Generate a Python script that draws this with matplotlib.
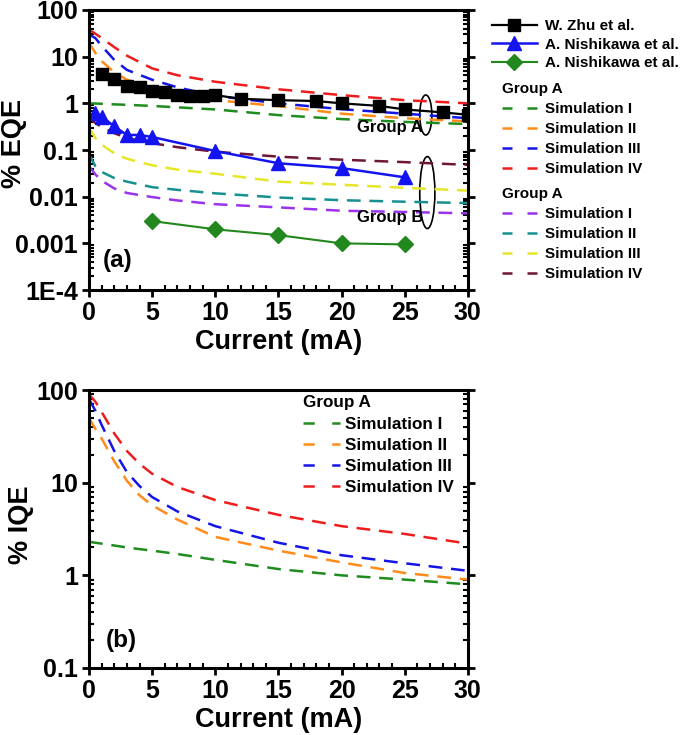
import numpy as np
import matplotlib
matplotlib.use('Agg')
import matplotlib.pyplot as plt
from matplotlib.lines import Line2D
from matplotlib.patches import Ellipse
from matplotlib.ticker import (FixedLocator, FixedFormatter, MultipleLocator,
                               LogLocator, NullFormatter)

plt.rcParams['font.family'] = ['Liberation Sans', 'DejaVu Sans']
plt.rcParams['font.weight'] = 'bold'
plt.rcParams['axes.labelweight'] = 'bold'

# ---- measured data (EQE, %) ----
zhu_x = [1, 2, 3, 4, 5, 6, 7, 8, 9, 10, 12, 15, 18, 20, 23, 25, 28, 30]
zhu_y = [4.3, 3.3, 2.35, 2.2, 1.86, 1.77, 1.5, 1.45, 1.45, 1.5, 1.25, 1.17,
         1.12, 1.0, 0.88, 0.74, 0.64, 0.57]
nishi1_x = [0.5, 1, 2, 3, 4, 5, 10, 15, 20, 25]
nishi1_y = [0.61, 0.52, 0.32, 0.21, 0.21, 0.19, 0.095, 0.052, 0.041, 0.026]
nishi2_x = [5, 10, 15, 20, 25]
nishi2_y = [0.003, 0.002, 0.0015, 0.001, 0.00095]

# ---- simulated EQE (%) ----
sim_x = [0, 0.5, 1, 2, 3, 5, 7, 10, 15, 20, 25, 30]
eqe_a1 = [1.0, 0.99, 0.98, 0.95, 0.93, 0.88, 0.82, 0.74, 0.56, 0.46, 0.40, 0.36]
eqe_a2 = [20, 12, 8, 4.6, 3.2, 2.1, 1.6, 1.17, 0.87, 0.6, 0.48, 0.41]
eqe_a3 = [30, 25, 17, 8.5, 5.2, 3.2, 2.2, 1.45, 1.0, 0.75, 0.6, 0.48]
eqe_a4 = [38, 31, 25, 16, 10.5, 5.6, 4.0, 2.9, 2.0, 1.5, 1.17, 1.0]
eqe_b1 = [0.045, 0.03, 0.022, 0.015, 0.012, 0.0098, 0.0083, 0.0069, 0.0059,
          0.005, 0.0047, 0.0044]
eqe_b2 = [0.08, 0.045, 0.034, 0.025, 0.021, 0.016, 0.014, 0.0118, 0.0096,
          0.0084, 0.0078, 0.0073]
eqe_b3 = [0.3, 0.18, 0.13, 0.085, 0.065, 0.047, 0.038, 0.031, 0.021, 0.018,
          0.0155, 0.0135]
eqe_b4 = [0.5, 0.38, 0.31, 0.23, 0.18, 0.14, 0.115, 0.092, 0.072, 0.062,
          0.055, 0.048]

# ---- simulated IQE (%) ----
iqe_x = [0, 0.5, 1, 2, 3, 4, 5, 7, 10, 15, 20, 25, 30]
iqe_a1 = [2.3, 2.25, 2.2, 2.1, 2.0, 1.92, 1.85, 1.7, 1.47, 1.17, 1.0, 0.9, 0.8]
iqe_a2 = [50, 38, 30, 17, 10.5, 7.3, 5.7, 4.0, 2.6, 1.85, 1.38, 1.06, 0.9]
iqe_a3 = [80, 60, 42, 22, 13, 9.2, 7.0, 4.9, 3.4, 2.25, 1.65, 1.35, 1.12]
iqe_a4 = [90, 75, 58, 34, 22, 16, 12.5, 9.0, 6.5, 4.5, 3.4, 2.8, 2.2]

sim_labels = ['Simulation I', 'Simulation II', 'Simulation III', 'Simulation IV']
cols_a = ['#1e8c1e', '#ff8c1a', '#1414e6', '#ee1c1c']
cols_b = ['#9a33ee', '#169090', '#e6e629', '#6e1538']

DASH = (0, (5.5, 3.5))
LW = 1.8

fig = plt.figure(figsize=(6.85, 7.35), dpi=100)
ax1 = fig.add_axes([0.130, 0.6054, 0.553, 0.381])
ax2 = fig.add_axes([0.130, 0.0912, 0.553, 0.378])


def style_axis(ax, ylim, yticks, ylabels):
    ax.set_xlim(0, 30)
    ax.set_yscale('log')
    ax.set_ylim(*ylim)
    ax.xaxis.set_major_locator(MultipleLocator(5))
    ax.xaxis.set_minor_locator(MultipleLocator(1))
    ax.yaxis.set_major_locator(FixedLocator(yticks))
    ax.yaxis.set_major_formatter(FixedFormatter(ylabels))
    ax.yaxis.set_minor_locator(LogLocator(base=10, subs=np.arange(2, 10), numticks=20))
    ax.yaxis.set_minor_formatter(NullFormatter())
    ax.tick_params(which='major', direction='out', length=5, width=2,
                   labelsize=18, right=True, top=False, pad=3)
    ax.tick_params(which='minor', direction='in', length=3.5, width=1.5,
                   right=True, top=False)
    for s in ax.spines.values():
        s.set_linewidth(2.2)
    ax.set_xlabel('Current (mA)', fontsize=19.5, labelpad=3)


# ---- panel (a) ----
for ys, c in zip([eqe_a1, eqe_a2, eqe_a3, eqe_a4], cols_a):
    ax1.plot(sim_x, ys, color=c, lw=LW, linestyle=DASH)
for ys, c in zip([eqe_b1, eqe_b2, eqe_b3, eqe_b4], cols_b):
    ax1.plot(sim_x, ys, color=c, lw=LW, linestyle=DASH)

ax1.plot(zhu_x, zhu_y, color='k', lw=1.6, marker='s', ms=9)
ax1.plot(nishi1_x, nishi1_y, color='#1414f0', lw=1.8, marker='^', ms=10)
ax1.plot(nishi2_x, nishi2_y, color='#22881e', lw=1.5, marker='D', ms=8)

style_axis(ax1, (1e-4, 100), [1e-4, 1e-3, 1e-2, 0.1, 1, 10, 100],
           ['1E-4', '0.001', '0.01', '0.1', '1', '10', '100'])
ax1.set_ylabel('% EQE', fontsize=19.5)
ax1.yaxis.set_label_coords(-0.165, 0.525)

ax1.add_patch(Ellipse((0.889, 0.625), 0.032, 0.143, transform=ax1.transAxes,
                      fill=False, color='k', lw=1.2))
ax1.add_patch(Ellipse((0.893, 0.348), 0.040, 0.257, transform=ax1.transAxes,
                      fill=False, color='k', lw=1.2))
ax1.text(0.882, 0.58, 'Group A', transform=ax1.transAxes, ha='right',
         va='center', fontsize=12)
ax1.text(0.882, 0.26, 'Group B', transform=ax1.transAxes, ha='right',
         va='center', fontsize=12)
ax1.text(0.037, 0.107, '(a)', transform=ax1.transAxes, ha='left',
         va='center', fontsize=17.5)

# legends (outside right)
h_data = [Line2D([], [], color='k', lw=1.6, marker='s', ms=9),
          Line2D([], [], color='#1414f0', lw=1.8, marker='^', ms=10),
          Line2D([], [], color='#22881e', lw=1.5, marker='D', ms=8)]
l_data = ['W. Zhu et al.', 'A. Nishikawa et al.', 'A. Nishikawa et al.']
leg_kw = dict(frameon=False, fontsize=11, borderpad=0, borderaxespad=0,
              labelspacing=0.3, handletextpad=0.5,
              bbox_transform=fig.transFigure, loc='upper left')
leg1 = fig.legend(h_data, l_data, bbox_to_anchor=(0.718, 0.974),
                  handlelength=2.95, numpoints=1, **leg_kw)

h_a = [Line2D([], [], color=c, lw=LW, dashes=(4, 6)) for c in cols_a]
h_b = [Line2D([], [], color=c, lw=LW, dashes=(4, 6)) for c in cols_b]
leg_kw['labelspacing'] = 0.39
leg2 = fig.legend(h_a, sim_labels, bbox_to_anchor=(0.733, 0.888),
                  handlelength=2.3, title='Group A', alignment='left',
                  title_fontproperties={'weight': 'bold', 'size': 11}, **leg_kw)
leg3 = fig.legend(h_b, sim_labels, bbox_to_anchor=(0.733, 0.745),
                  handlelength=2.3, title='Group A', alignment='left',
                  title_fontproperties={'weight': 'bold', 'size': 11}, **leg_kw)

# ---- panel (b) ----
for ys, c in zip([iqe_a1, iqe_a2, iqe_a3, iqe_a4], cols_a):
    ax2.plot(iqe_x, ys, color=c, lw=LW, linestyle=DASH)

style_axis(ax2, (0.1, 100), [0.1, 1, 10, 100], ['0.1', '1', '10', '100'])
ax2.set_ylabel('% IQE', fontsize=19.5)
ax2.yaxis.set_label_coords(-0.145, 0.514)
ax2.text(0.043, 0.10, '(b)', transform=ax2.transAxes, ha='left',
         va='center', fontsize=17.5)

leg_kw2 = dict(leg_kw)
leg_kw2['fontsize'] = 12.3
leg_kw2['handletextpad'] = 0.3
leg_kw2['labelspacing'] = 0.36
h_a2 = [Line2D([], [], color=c, lw=LW, dashes=(4.5, 7)) for c in cols_a]
fig.legend(h_a2, sim_labels, bbox_to_anchor=(0.442, 0.462),
           handlelength=2.17, title='Group A', alignment='left',
           title_fontproperties={'weight': 'bold', 'size': 12.3}, **leg_kw2)

fig.savefig('out.png', dpi=100)
